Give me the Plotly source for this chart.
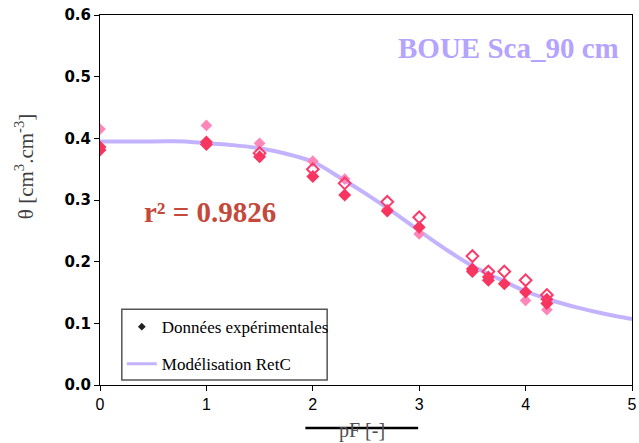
import plotly.graph_objects as go

# ---- data ----
curve_pf = [0, 0.5, 0.8, 1.0, 1.25, 1.5, 1.75, 2.0, 2.25, 2.5, 2.75, 3.0, 3.25, 3.5, 3.75, 4.0, 4.25, 4.5, 4.75, 5.0]
curve_theta = [0.395, 0.395, 0.395, 0.392, 0.389, 0.384, 0.375, 0.362, 0.337, 0.310, 0.281, 0.250, 0.220, 0.193, 0.172, 0.152, 0.137, 0.125, 0.115, 0.107]

pink_pf = [0, 1, 1.5, 2, 2.3, 2.7, 3.0, 4.0, 4.2]
pink_theta = [0.415, 0.421, 0.392, 0.363, 0.334, 0.285, 0.245, 0.137, 0.122]

red_pf = [0, 0, 1, 1, 1.5, 2, 2.3, 2.7, 3.0, 3.5, 3.5, 3.65, 3.65, 3.8, 4.0, 4.2, 4.2]
red_theta = [0.386, 0.381, 0.394, 0.390, 0.370, 0.338, 0.308, 0.282, 0.256, 0.188, 0.184, 0.175, 0.170, 0.164, 0.151, 0.139, 0.132]

open_pf = [1.5, 2, 2.3, 2.7, 3.0, 3.5, 3.65, 3.8, 4.0, 4.2]
open_theta = [0.376, 0.350, 0.327, 0.297, 0.272, 0.209, 0.184, 0.184, 0.170, 0.146]

x_ticks = [0, 1, 2, 3, 4, 5]
y_ticks = [0.0, 0.1, 0.2, 0.3, 0.4, 0.5, 0.6]
y_tick_labels = ["0.0", "0.1", "0.2", "0.3", "0.4", "0.5", "0.6"]

fig = go.Figure()

fig.add_trace(go.Scatter(x=curve_pf, y=curve_theta, mode="lines",
                         line=dict(color="rgba(180,160,255,0.8)", width=4, shape="spline"),
                         showlegend=False, hoverinfo="skip"))
fig.add_trace(go.Scatter(x=pink_pf, y=pink_theta, mode="markers",
                         marker=dict(symbol="diamond", size=9, color="#ff86b8"),
                         showlegend=False))
fig.add_trace(go.Scatter(x=red_pf, y=red_theta, mode="markers",
                         marker=dict(symbol="diamond", size=10, color="#f7355f"),
                         showlegend=False))
fig.add_trace(go.Scatter(x=open_pf, y=open_theta, mode="markers",
                         marker=dict(symbol="diamond-open", size=9, color="#fb3a6a",
                                     line=dict(width=2)),
                         showlegend=False))

# legend entries
fig.add_trace(go.Scatter(x=[None], y=[None], mode="markers",
                         marker=dict(symbol="diamond", size=6, color="#222222"),
                         name="Données expérimentales", legendgroup="a"))
fig.add_trace(go.Scatter(x=[None], y=[None], mode="lines",
                         line=dict(color="rgba(180,160,255,0.8)", width=3),
                         name="Modélisation RetC", legendgroup="b"))

fig.update_layout(
    width=639, height=443,
    margin=dict(l=100, r=7, t=15, b=58, autoexpand=False),
    plot_bgcolor="white", paper_bgcolor="white",
    showlegend=True,
    legend=dict(x=0.041, y=0.205, xanchor="left", yanchor="top",
                borderwidth=0, bgcolor="rgba(0,0,0,0)",
                font=dict(family="Liberation Serif", size=17, color="black"),
                traceorder="grouped", tracegroupgap=12),
    xaxis=dict(range=[0, 5], tickvals=x_ticks, ticks="outside", ticklen=5,
               tickcolor="black", showline=True, linecolor="black", linewidth=1,
               mirror=True, showgrid=False, zeroline=False, ticklabeloverflow="allow",
               automargin=False,
               tickfont=dict(family="Liberation Sans", size=16, color="black")),
    yaxis=dict(range=[0, 0.6], tickvals=y_ticks, ticktext=y_tick_labels,
               ticks="outside", ticklen=5, tickcolor="black",
               showline=True, linecolor="black", linewidth=1, mirror=True,
               showgrid=False, zeroline=False, ticklabeloverflow="allow",
               automargin=False,
               tickfont=dict(family="DejaVu Sans", size=15, color="black", weight="bold")),
    annotations=[
        dict(text="θ [cm<sup>3</sup>.cm<sup>-3</sup>]", xref="paper", yref="paper",
             x=-0.142, y=0.59, xanchor="center", yanchor="middle", textangle=-90,
             showarrow=False, font=dict(family="Liberation Serif", size=21, color="#404040")),
        dict(text="pF [-]", xref="paper", yref="paper", x=0.493, y=-0.122,
             xanchor="center", yanchor="middle", showarrow=False,
             font=dict(family="Liberation Serif", size=20, color="#505050")),
        dict(text="<b>BOUE Sca_90 cm</b>", xref="paper", yref="paper",
             x=0.767, y=0.912, xanchor="center", yanchor="middle", showarrow=False,
             font=dict(family="Liberation Serif", size=29, color="#b4a3ff")),
        dict(text="<b>r² = 0.9826</b>", xref="paper", yref="paper",
             x=0.2075, y=0.467, xanchor="center", yanchor="middle", showarrow=False,
             font=dict(family="Liberation Serif", size=29, color="#c4493b")),
    ],
    shapes=[
        dict(type="line", xref="paper", yref="paper", x0=0.386, x1=0.598,
             y0=-0.116, y1=-0.116, line=dict(color="black", width=2.5)),
        dict(type="rect", xref="paper", yref="paper", x0=0.041, x1=0.427,
             y0=0.0135, y1=0.205, line=dict(color="#555555", width=1.5),
             fillcolor="rgba(0,0,0,0)", layer="above"),
    ],
)

fig.write_html("out.html", config={"displayModeBar": False},
               post_script="document.body.style.margin='0';")
